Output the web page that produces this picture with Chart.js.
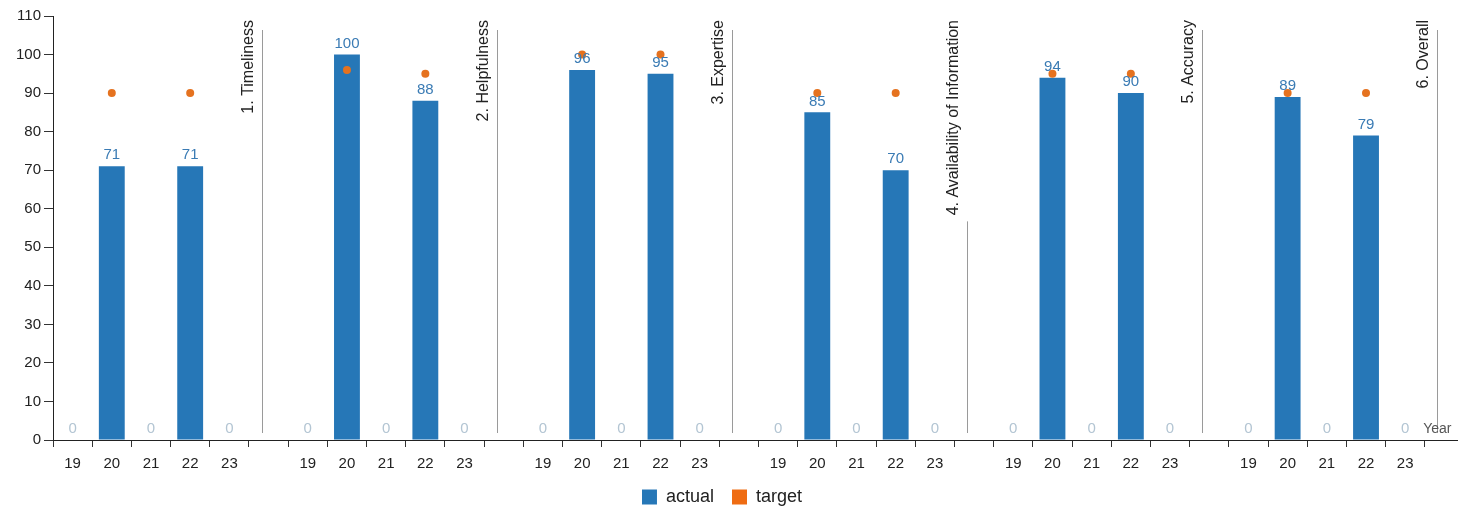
<!DOCTYPE html>
<html>
<head>
<meta charset="utf-8">
<title>Survey scores by year</title>
<script src="https://cdn.jsdelivr.net/npm/chart.js@4/dist/chart.umd.min.js"></script>
<style>
  html, body { margin: 0; padding: 0; background: #fff; overflow: hidden; }
  canvas { display: block; }
</style>
</head>
<body>
<canvas id="chart" width="1468" height="510"></canvas>
<script>
// Survey dimensions, each shown for five survey years
const groups = [
  '1. Timeliness',
  '2. Helpfulness',
  '3. Expertise',
  '4. Availability of Information',
  '5. Accuracy',
  '6. Overall'
];
const years = ['19', '20', '21', '22', '23'];

// Actual score per group, one value per year
const actualTimeliness    = [0, 71, 0, 71, 0];
const actualHelpfulness   = [0, 100, 0, 88, 0];
const actualExpertise     = [0, 96, 0, 95, 0];
const actualAvailability  = [0, 85, 0, 70, 0];
const actualAccuracy      = [0, 94, 0, 90, 0];
const actualOverall       = [0, 89, 0, 79, 0];

// Target score per group (only set for the surveyed years)
const targetTimeliness    = [null, 90, null, 90, null];
const targetHelpfulness   = [null, 96, null, 95, null];
const targetExpertise     = [null, 100, null, 100, null];
const targetAvailability  = [null, 90, null, 90, null];
const targetAccuracy      = [null, 95, null, 95, null];
const targetOverall       = [null, 90, null, 90, null];

const yTicks = [0, 10, 20, 30, 40, 50, 60, 70, 80, 90, 100, 110];
const xAxisTitle = 'Year';

const actualByGroup = [actualTimeliness, actualHelpfulness, actualExpertise,
                       actualAvailability, actualAccuracy, actualOverall];
const targetByGroup = [targetTimeliness, targetHelpfulness, targetExpertise,
                       targetAvailability, targetAccuracy, targetOverall];

// Flatten into one category axis; an empty slot follows every group
const labels = [];
const actualData = [];
const targetData = [];
const separatorIndex = [];
groups.forEach((g, gi) => {
  years.forEach((y, yi) => {
    labels.push(y);
    actualData.push(actualByGroup[gi][yi]);
    targetData.push(targetByGroup[gi][yi]);
  });
  labels.push('');
  actualData.push(null);
  targetData.push(null);
  separatorIndex.push(labels.length - 1);
});

const FONT = "'Liberation Sans', Arial, Helvetica, sans-serif";
const BLUE = '#2677b7';
const ORANGE = '#ef6c12';

// Group name (rotated) and divider line in each empty slot
const groupMarkers = {
  id: 'groupMarkers',
  afterDatasetsDraw(chart) {
    const { ctx, chartArea, scales: { x } } = chart;
    const step = x.getPixelForValue(1) - x.getPixelForValue(0);
    ctx.save();
    ctx.font = '16px ' + FONT;
    groups.forEach((g, gi) => {
      const lx = Math.round(x.getPixelForValue(separatorIndex[gi]) - 0.18 * step) + 0.5;
      const textTop = chartArea.top + 4;
      const textLen = ctx.measureText(g).width;
      const lineTop = textLen > 150 ? textTop + textLen + 6 : chartArea.top + 14;
      ctx.strokeStyle = '#9a9a9a';
      ctx.lineWidth = 1;
      ctx.beginPath();
      ctx.moveTo(lx, lineTop);
      ctx.lineTo(lx, chartArea.bottom - 7);
      ctx.stroke();

      ctx.save();
      ctx.translate(lx - 13.5, textTop);
      ctx.rotate(-Math.PI / 2);
      ctx.fillStyle = '#222';
      ctx.textAlign = 'right';
      ctx.textBaseline = 'middle';
      ctx.fillText(g, 0, 0);
      ctx.restore();
    });
    ctx.restore();
  }
};

// Value printed above every bar
const valueLabels = {
  id: 'valueLabels',
  afterDatasetsDraw(chart) {
    const { ctx } = chart;
    const meta = chart.getDatasetMeta(0);
    ctx.save();
    ctx.font = '15px ' + FONT;
    ctx.textAlign = 'center';
    ctx.textBaseline = 'middle';
    meta.data.forEach((bar, i) => {
      const v = actualData[i];
      if (v === null || v === undefined) return;
      ctx.fillStyle = v === 0 ? '#b3c5d3' : '#3a7bb4';
      ctx.fillText(String(v), bar.x, bar.y - 11);
    });
    ctx.restore();
  }
};

// Axis title sitting just above the x axis at the right end
const axisTitle = {
  id: 'axisTitle',
  afterDraw(chart) {
    const { ctx, chartArea, scales: { x } } = chart;
    ctx.save();
    ctx.font = '14px ' + FONT;
    ctx.fillStyle = '#555';
    ctx.textAlign = 'left';
    ctx.textBaseline = 'middle';
    ctx.fillText(xAxisTitle, x.getPixelForValue(labels.length - 2) + 18, chartArea.bottom - 11);
    ctx.restore();
  }
};

// Keep the legend centred under the plotted area
const legendPlacement = {
  id: 'legendPlacement',
  afterLayout(chart) {
    const lg = chart.legend;
    if (!lg) return;
    const dx = 722 - (lg.left + lg.right) / 2;
    lg.left += dx;
    lg.right += dx;
  }
};

new Chart(document.getElementById('chart'), {
  type: 'bar',
  data: {
    labels: labels,
    datasets: [
      {
        label: 'actual',
        data: actualData,
        backgroundColor: BLUE,
        borderWidth: 0,
        categoryPercentage: 1,
        barPercentage: 0.66,
        order: 1
      },
      {
        type: 'line',
        label: 'target',
        data: targetData,
        showLine: false,
        backgroundColor: ORANGE,
        borderColor: ORANGE,
        borderWidth: 0,
        pointRadius: 4,
        pointBackgroundColor: '#e5721f',
        pointBorderWidth: 0,
        order: 0
      }
    ]
  },
  options: {
    responsive: false,
    animation: false,
    layout: { padding: { top: 16, right: 0, bottom: -6, left: 0 } },
    plugins: {
      legend: {
        position: 'bottom',
        labels: {
          boxWidth: 15,
          boxHeight: 15,
          padding: 18,
          color: '#222',
          font: { size: 18, family: FONT },
          sort: (a, b) => a.datasetIndex - b.datasetIndex
        }
      },
      tooltip: { enabled: false }
    },
    scales: {
      x: {
        grid: { offset: true, drawOnChartArea: false, drawTicks: true, tickLength: 7, color: '#333' },
        border: { display: true, color: '#222', width: 1 },
        ticks: { color: '#222', font: { size: 15, family: FONT }, padding: 8, autoSkip: false, maxRotation: 0 },
        afterFit: s => { s.height = 30; }
      },
      y: {
        min: 0,
        max: 110,
        afterBuildTicks: s => { s.ticks = yTicks.map(v => ({ value: v })); },
        grid: { drawOnChartArea: false, drawTicks: true, tickLength: 9, color: '#333' },
        border: { display: true, color: '#222', width: 1 },
        ticks: { color: '#222', font: { size: 15, family: FONT }, padding: 3 },
        afterFit: s => { s.width = 53; }
      }
    }
  },
  plugins: [groupMarkers, valueLabels, axisTitle, legendPlacement]
});
</script>
</body>
</html>
